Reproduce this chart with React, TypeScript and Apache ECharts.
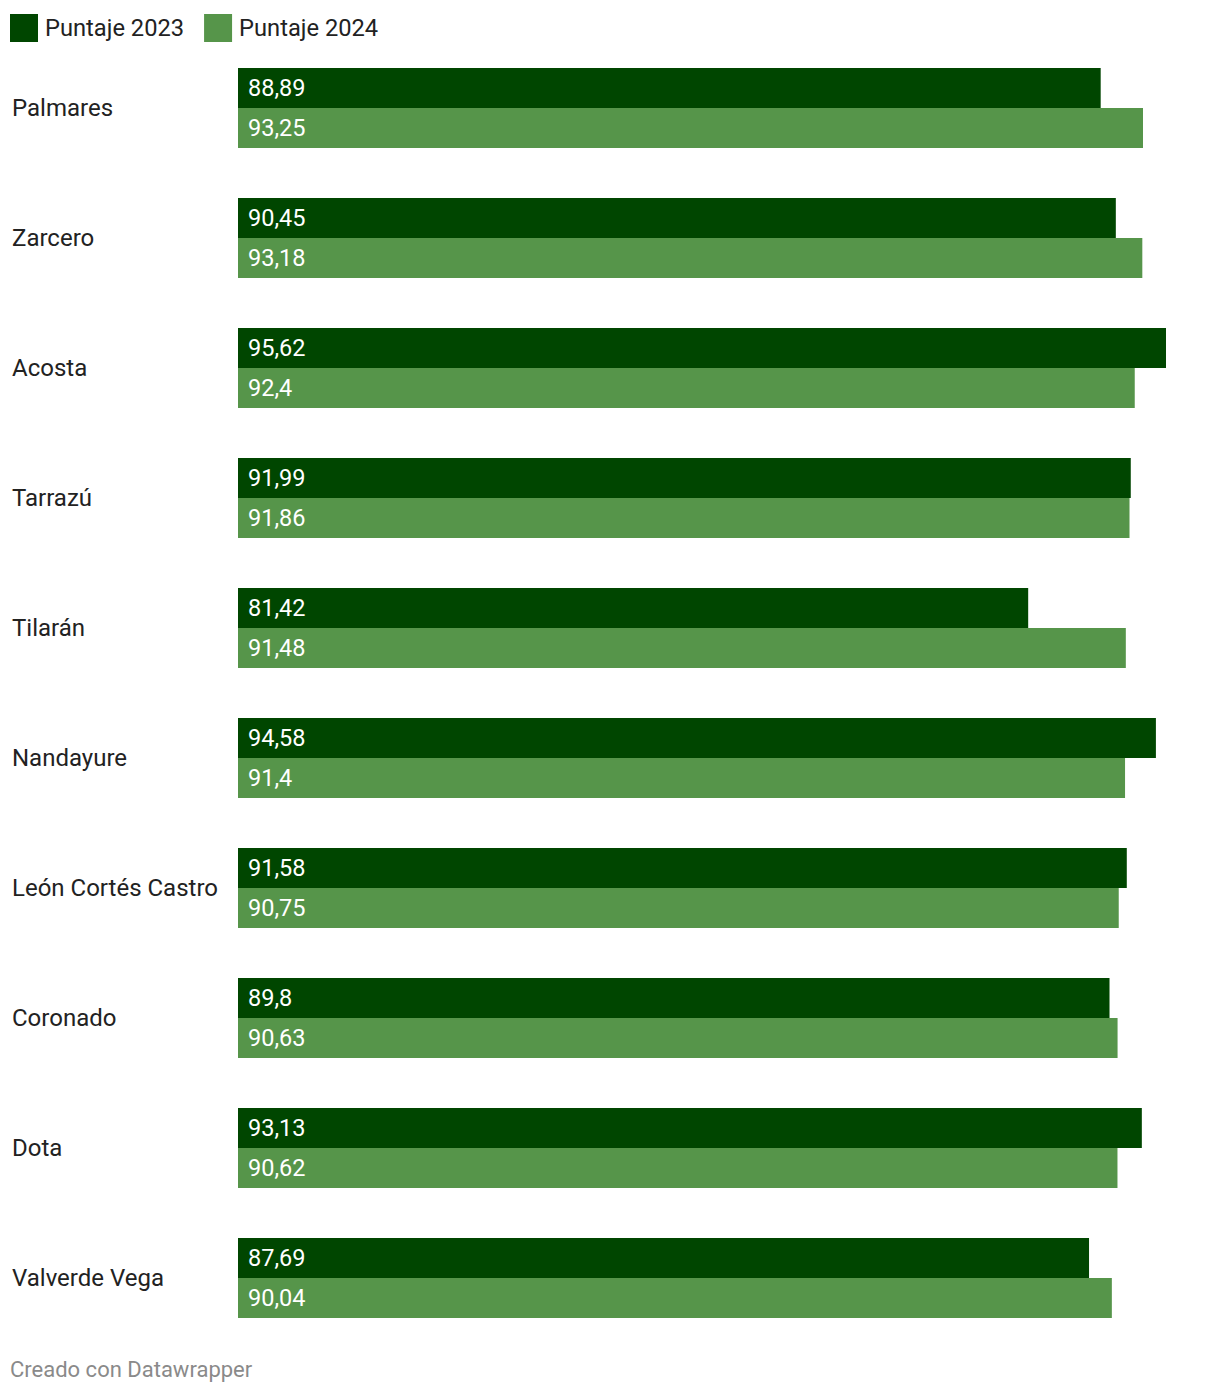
import React, { useEffect, useRef } from "react";
import * as echarts from "echarts";

const categories = [
  "Palmares",
  "Zarcero",
  "Acosta",
  "Tarrazú",
  "Tilarán",
  "Nandayure",
  "León Cortés Castro",
  "Coronado",
  "Dota",
  "Valverde Vega",
];
const puntaje2023 = [88.89, 90.45, 95.62, 91.99, 81.42, 94.58, 91.58, 89.8, 93.13, 87.69];
const puntaje2024 = [93.25, 93.18, 92.4, 91.86, 91.48, 91.4, 90.75, 90.63, 90.62, 90.04];
const seriesNames = ["Puntaje 2023", "Puntaje 2024"];

const FONT = "Roboto, 'Noto Sans', sans-serif";
const fmt = (v: number) => String(v).replace(".", ",");

export default function App() {
  const ref = useRef<HTMLDivElement>(null);
  useEffect(() => {
    if (!ref.current) return;
    const chart = echarts.init(ref.current, undefined, { renderer: "svg" });
    const label = {
      show: true,
      position: "insideLeft",
      distance: 10,
      color: "#ffffff",
      fontSize: 23.5,
      fontFamily: FONT,
      formatter: (p: any) => fmt(p.value),
    };
    chart.setOption({
      animation: false,
      color: ["#004600", "#56954a"],
      textStyle: { fontFamily: FONT },
      legend: {
        left: 5,
        top: 9,
        itemWidth: 28,
        itemHeight: 28,
        itemGap: 20,
        icon: "rect",
        textStyle: { fontSize: 23.7, color: "#222222", fontFamily: FONT, padding: [0, 0, 0, 2] },
        data: seriesNames,
      },
      grid: { left: 238, right: 54, top: 43, bottom: 53, containLabel: false },
      xAxis: {
        type: "value",
        min: 0,
        max: 95.62,
        show: false,
      },
      yAxis: {
        type: "category",
        data: categories,
        inverse: true,
        axisLine: { show: false },
        axisTick: { show: false },
        splitLine: { show: false },
        axisLabel: {
          align: "left",
          margin: 226,
          fontSize: 24,
          color: "#222222",
          fontFamily: FONT,
        },
      },
      series: [
        {
          name: seriesNames[0],
          type: "bar",
          data: puntaje2023,
          barWidth: 40,
          barGap: "0%",
          label,
        },
        {
          name: seriesNames[1],
          type: "bar",
          data: puntaje2024,
          barWidth: 40,
          barGap: "0%",
          label,
        },
      ],
      graphic: [
        {
          type: "text",
          left: 10,
          top: 1358,
          style: {
            text: "Creado con Datawrapper",
            fontSize: 22,
            fill: "#8a8a8a",
            fontFamily: FONT,
          },
        },
      ],
    });
    return () => chart.dispose();
  }, []);
  return <div ref={ref} style={{ width: 1220, height: 1396, position: "absolute", left: 0, top: 0 }} />;
}
